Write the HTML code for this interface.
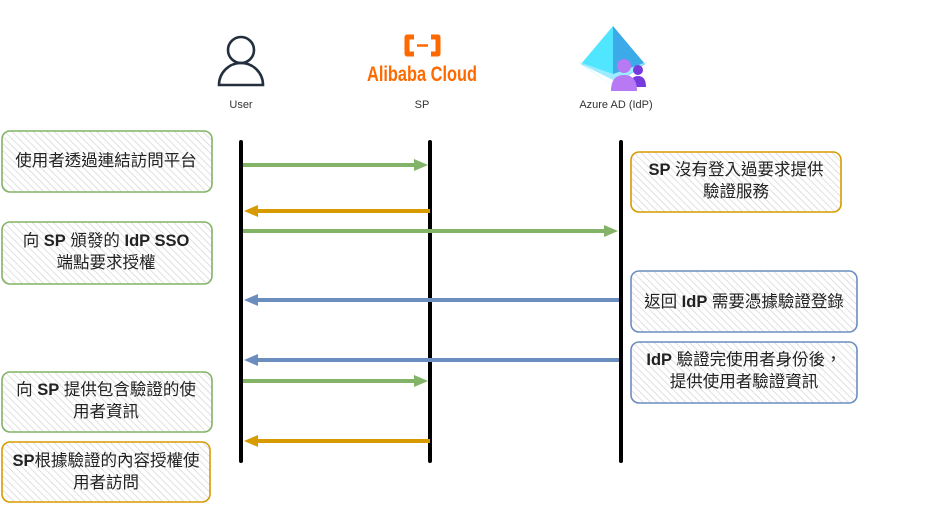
<!DOCTYPE html>
<html><head><meta charset="utf-8"><style>
html,body{margin:0;padding:0;background:#fff;}
svg{display:block}
text{font-family:"Liberation Sans","Noto Sans CJK TC",sans-serif;}
.t{font-size:16.5px;fill:#222;}
.b{font-weight:bold;}
</style></head><body>
<svg width="941" height="505" viewBox="0 0 941 505" xmlns="http://www.w3.org/2000/svg">
<defs>
<pattern id="h" width="5" height="5" patternUnits="userSpaceOnUse" patternTransform="rotate(-45)">
<rect width="5" height="5" fill="#fff"/><line x1="0" y1="0" x2="0" y2="5" stroke="#d4d4d4" stroke-width="1.4"/>
</pattern>
</defs>
<!-- icons -->
<g fill="none" stroke="#232f3e" stroke-width="2.6">
<circle cx="241" cy="50" r="13"/>
<path d="M219 85 A22 22 0 0 1 263 85 Z"/>
</g>
<text x="241" y="108" font-size="11" text-anchor="middle" fill="#333">User</text>
<g fill="none" stroke="#ff6a00" stroke-width="5" stroke-linejoin="round">
<path d="M414 37 h-7 v17 h7"/><path d="M431 37 h7 v17 h-7"/>
</g>
<line x1="417" y1="45.5" x2="428" y2="45.5" stroke="#ff6a00" stroke-width="2.5"/>
<text x="422" y="81" font-size="21" font-weight="bold" text-anchor="middle" fill="#ff6a00" textLength="110" lengthAdjust="spacingAndGlyphs">Alibaba Cloud</text>
<text x="422" y="108" font-size="11" text-anchor="middle" fill="#333">SP</text>
<polygon points="613,26 581,64 613,86" fill="#50e6ff"/>
<polygon points="613,26 645,64 613,86" fill="#3ca9e8"/>
<polygon points="579,62 613,86 647,62 613,74" fill="#9cebff"/>
<polygon points="583,65 613,86 613,80" fill="#fff"/>
<circle cx="638" cy="70" r="5" fill="#773adc"/>
<path d="M630 87 q0-11 8-11 q8 0 8 11 z" fill="#773adc"/>
<circle cx="624" cy="66" r="7" fill="#b77af4"/>
<path d="M611 91 q0-16 13-16 q13 0 13 16 z" fill="#b77af4"/>
<text x="616" y="108" font-size="11" text-anchor="middle" fill="#333">Azure AD (IdP)</text>
<!-- lifelines -->
<g stroke="#000" stroke-width="4" stroke-linecap="round">
<line x1="241" y1="142" x2="241" y2="461"/>
<line x1="430" y1="142" x2="430" y2="461"/>
<line x1="621" y1="142" x2="621" y2="461"/>
</g>
<!-- arrows -->
<g stroke-width="4">
<line x1="243" y1="165" x2="420" y2="165" stroke="#82b366"/>
<polygon points="428,165 414,159 414,171" fill="#82b366"/>
<line x1="430" y1="211" x2="254" y2="211" stroke="#d79b00"/>
<polygon points="244,211 258,205 258,217" fill="#d79b00"/>
<line x1="243" y1="231" x2="610" y2="231" stroke="#82b366"/>
<polygon points="618,231 604,225 604,237" fill="#82b366"/>
<line x1="619" y1="300" x2="254" y2="300" stroke="#6c8ebf"/>
<polygon points="244,300 258,294 258,306" fill="#6c8ebf"/>
<line x1="619" y1="360" x2="254" y2="360" stroke="#6c8ebf"/>
<polygon points="244,360 258,354 258,366" fill="#6c8ebf"/>
<line x1="243" y1="381" x2="420" y2="381" stroke="#82b366"/>
<polygon points="428,381 414,375 414,387" fill="#82b366"/>
<line x1="430" y1="441" x2="254" y2="441" stroke="#d79b00"/>
<polygon points="244,441 258,435 258,447" fill="#d79b00"/>
</g>
<!-- boxes -->
<g fill="url(#h)" stroke-width="1.6">
<rect x="2" y="131" width="210" height="61" rx="8" stroke="#82b366"/>
<rect x="2" y="222" width="210" height="62" rx="8" stroke="#82b366"/>
<rect x="2" y="372" width="210" height="60" rx="8" stroke="#82b366"/>
<rect x="2" y="442" width="208" height="60" rx="8" stroke="#d79b00"/>
<rect x="631" y="152" width="210" height="60" rx="8" stroke="#d79b00"/>
<rect x="631" y="271" width="226" height="61" rx="8" stroke="#6c8ebf"/>
<rect x="631" y="342" width="226" height="61" rx="8" stroke="#6c8ebf"/>
</g>
<g class="t" text-anchor="middle">
<text x="106" y="166">使用者透過連結訪問平台</text>
<text x="106" y="246">向 <tspan class="b">SP</tspan> 頒發的 <tspan class="b">IdP SSO</tspan></text>
<text x="106" y="268">端點要求授權</text>
<text x="106" y="395">向 <tspan class="b">SP</tspan> 提供包含驗證的使</text>
<text x="106" y="417">用者資訊</text>
<text x="106" y="466"><tspan class="b">SP</tspan>根據驗證的內容授權使</text>
<text x="106" y="488">用者訪問</text>
<text x="736" y="175"><tspan class="b">SP</tspan> 沒有登入過要求提供</text>
<text x="736" y="197">驗證服務</text>
<text x="744" y="307">返回 <tspan class="b">IdP</tspan> 需要憑據驗證登錄</text>
<text x="744" y="365"><tspan class="b">IdP</tspan> 驗證完使用者身份後，</text>
<text x="744" y="387">提供使用者驗證資訊</text>
</g>
</svg>
</body></html>
